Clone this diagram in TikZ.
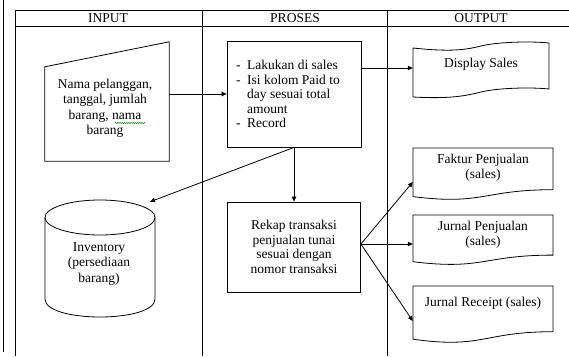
\documentclass[tikz,border=0pt]{standalone}
\usepackage{fontspec}
\setmainfont{Liberation Serif}
\usetikzlibrary{arrows.meta,decorations.pathmorphing}

\begin{document}
\begin{tikzpicture}[x=1pt,y=-1pt,
  line/.style={draw=black,line width=0.8pt},
  arr/.style={draw=black,line width=0.8pt,-{Triangle[length=5pt,width=4.5pt]}},
  txt/.style={font=\fontsize{13.5}{15.5}\selectfont,align=center,inner sep=0pt},
  ghost/.style={rectangle,inner sep=0pt},
  box/.style={line,rectangle,inner sep=0pt},
  spell/.style={draw=green!55!black,line width=0.5pt,decorate,
    decoration={snake,amplitude=0.6pt,segment length=2.2pt}}
]
\useasboundingbox (0,0) rectangle (569,356);

% swimlane frame
\draw[line] (3,0) -- (3,352);
\draw[line] (15,10) -- (15,356);
\draw[line] (15,10) -- (569,10);
\draw[line] (15,26) -- (569,26);
\draw[line] (202,10) -- (202,356);
\draw[line] (387,10) -- (387,356);

% lane headings
\node[txt] (hin)  at (108,18.5) {INPUT};
\node[txt] (hpr)  at (295,18.5) {PROSES};
\node[txt] (hout) at (481,18.5) {OUTPUT};

% manual input
\node[ghost,minimum width=124,minimum height=119] (inp) at (107,101.5) {};
\draw[line] (inp.south west) -- (inp.south east) -- (inp.north east)
  -- ([yshift=-25pt]inp.north west) -- cycle;
\node[txt] (inptxt) at (105,108.5) {Nama pelanggan,\\tanggal, jumlah\\barang, nama\\barang};
\draw[spell] (115,123) -- (145,123);

% first process
\node[box,minimum width=134,minimum height=106] (proc1) at (294,94) {};
\node[txt,align=left,anchor=west,font=\fontsize{13.5}{14.5}\selectfont] (proc1txt) at (236,94)
  {\makebox[11pt][l]{-}Lakukan di sales\\
   \makebox[11pt][l]{-}Isi kolom Paid to\\
   \makebox[11pt][l]{}day sesuai total\\
   \makebox[11pt][l]{}amount\\
   \makebox[11pt][l]{-}Record};

% display
\node[ghost,minimum width=136,minimum height=54] (disp) at (481,68) {};
\draw[line] (413,48) .. controls (450,52) and (465,50) .. (481,46)
  .. controls (497,42) and (530,41) .. (549,43) -- (549,89)
  .. controls (530,87) and (497,88) .. (481,92)
  .. controls (465,96) and (450,99) .. (413,97) -- cycle;
\node[txt] (disptxt) at (481,64) {Display Sales};

% second process
\node[box,txt,font=\fontsize{13.5}{14.5}\selectfont,minimum width=133,minimum height=90]
  (proc2) at (294,247) {Rekap transaksi\\penjualan tunai\\sesuai dengan\\nomor transaksi};

% inventory store
\node[ghost,minimum width=110,minimum height=117] (inv) at (100,258.5) {};
\draw[line] (100,217.5) ellipse [x radius=55pt,y radius=17.5pt];
\draw[line] (45,217.5) -- (45,299) .. controls (45,323) and (155,323) .. (155,299) -- (155,217.5);
\node[txt] (invtxt) at (99,264) {Inventory\\(persediaan\\barang)};

% output documents
\node[ghost,minimum width=140,minimum height=48] (faktur) at (483,172) {};
\draw[line] (413,148) -- (553,148) -- (553,189.7)
  .. controls (483,189.7) and (483,205.5) .. (413,196.6) -- cycle;
\node[txt] (fakturtxt) at (483,167.5) {Faktur Penjualan\\(sales)};

\node[ghost,minimum width=140,minimum height=46] (jpen) at (483,238) {};
\draw[line] (413,215) -- (553,215) -- (553,255.1)
  .. controls (483,255.1) and (483,270.4) .. (413,261.7) -- cycle;
\node[txt] (jpentxt) at (483,234.5) {Jurnal Penjualan\\(sales)};

\node[ghost,minimum width=140,minimum height=52] (jrec) at (483,312) {};
\draw[line] (413,286) -- (553,286) -- (553,331.7)
  .. controls (483,331.7) and (483,349.1) .. (413,339.2) -- cycle;
\node[txt] (jrectxt) at (483,303) {Jurnal Receipt (sales)};

% flows
\draw[arr] (proc1.west -| inp.east) -- (proc1.west);
\draw[arr] (disp.west -| proc1.east) -- (disp.west);
\draw[arr] (proc1.south) -- (proc2.north);
\draw[arr] (proc1.south) -- ([xshift=50pt,yshift=-2pt]inv.north);
\draw[arr] ([yshift=3pt]proc2.east) -- ([yshift=-10pt]faktur.west);
\draw[arr] ([yshift=3pt]proc2.east) -- ([yshift=-6pt]jpen.west);
\draw[arr] ([yshift=3pt]proc2.east) -- ([yshift=-9pt]jrec.west);
\end{tikzpicture}
\end{document}
